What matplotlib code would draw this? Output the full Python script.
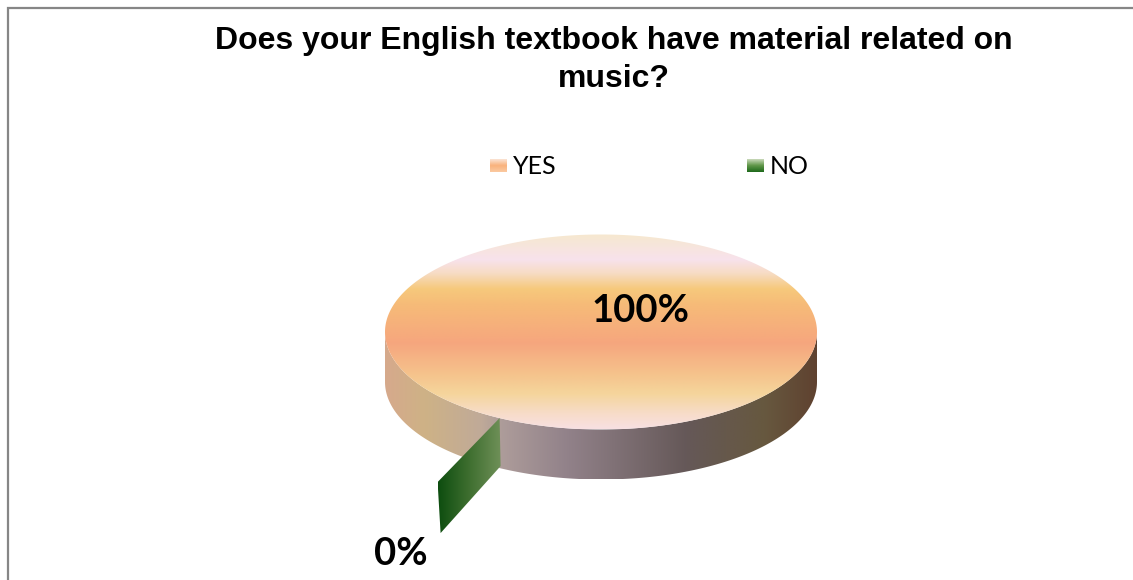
import numpy as np
import matplotlib

matplotlib.use("Agg")
import matplotlib.pyplot as plt
from matplotlib.colors import LinearSegmentedColormap
from matplotlib.patches import Polygon, Rectangle

title = "Does your English textbook have material related on\nmusic?"
categories = ["YES", "NO"]
shares = [100, 0]

W, H = 1133, 580
CX, CY, RX, RY = 601, 332, 216, 97.5
DEPTH = 50
START_ANGLE = 208  # clockwise from twelve o'clock
PULL = np.array([-62, 64])  # how far the NO slice is pulled out of the pie

TOP_STOPS = [(0.0, "#f6e8cf"), (0.13, "#f8e2ec"), (0.2, "#f7dcc4"), (0.28, "#f6c97c"), (0.36, "#f6bb78"),
             (0.56, "#f6a67e"), (0.72, "#f5c38c"), (0.82, "#f5d59c"), (0.92, "#f7dcc8"), (1.0, "#f8e0e2")]
SIDE_STOPS = [(0.0, "#d6a98c"), (0.09, "#ceb286"), (0.22, "#c0aa98"), (0.27, "#ad9c9a"), (0.42, "#92828a"),
              (0.7, "#655858"), (0.88, "#67583f"), (1.0, "#5f4230")]
GREEN_STOPS = [(0.0, "#0d4d0f"), (0.5, "#3f6f30"), (1.0, "#6f9058")]
KEY_COLORS = {"YES": ["#fbe3d3", "#f9b27c", "#fbc9a0"], "NO": ["#c8d8b8", "#5f9648", "#1f6a1c"]}


def rim(angles, drop=0):
    rad = np.radians(angles)
    return np.column_stack([CX + RX * np.sin(rad), CY - RY * np.cos(rad) + drop])


def gradient_fill(ax, patch, stops, extent, vertical=False, zorder=2):
    cmap = LinearSegmentedColormap.from_list("fill", stops)
    ramp = np.linspace(0, 1, 256)
    ramp = ramp[:, None] if vertical else ramp[None, :]
    patch.set(facecolor="none", edgecolor="none")
    ax.add_patch(patch)
    im = ax.imshow(ramp, cmap=cmap, extent=extent, aspect="auto", interpolation="bilinear", zorder=zorder)
    im.set_clip_path(patch)


fig = plt.figure(figsize=(W / 100, H / 100), dpi=100)
ax = fig.add_axes([0, 0, 1, 1])

# chart frame, only the top and left edges show
ax.add_patch(Rectangle((8, 8), W, H, facecolor="white", edgecolor="#868686", linewidth=1.6, zorder=0))

fig.text(614 / W, 1 - 41 / H, title.split("\n")[0], family="Liberation Sans", weight="bold", fontsize=23,
         ha="center", va="center", color="black")
fig.text(614 / W, 1 - 79 / H, title.split("\n")[1], family="Liberation Sans", weight="bold", fontsize=23,
         ha="center", va="center", color="black")

# pie: each slice boundary comes from the cumulative shares
sweeps = np.array(shares) / sum(shares) * 360
bounds = START_ANGLE + np.concatenate([[0], np.cumsum(sweeps)])

# outer wall, front half only
front = np.linspace(90, 270, 200)
side = Polygon(np.vstack([rim(front), rim(front[::-1], drop=DEPTH)]), closed=True)
gradient_fill(ax, side, SIDE_STOPS, (CX - RX, CX + RX, CY + RY + DEPTH, CY - RY))

# top face of the YES slice
top = Polygon(rim(np.linspace(bounds[0], bounds[1], 400)), closed=True)
gradient_fill(ax, top, TOP_STOPS, (CX - RX, CX + RX, CY + RY, CY - RY), vertical=True, zorder=3)

# the empty NO slice is pulled out, so only its cut wall is visible
inner = rim(bounds[2])[0]
outer = inner + PULL
wall = Polygon([inner, outer, outer + (3, DEPTH + 1), inner + (1, DEPTH - 2)], closed=True)
gradient_fill(ax, wall, GREEN_STOPS, (outer[0], inner[0] + 1, outer[1] + DEPTH + 1, inner[1]), zorder=4)

# value labels
label_pos = [(640, 311), (401, 554)]
for value, (x, y) in zip(shares, label_pos):
    ax.text(x, y, f"{value}%", family="Lato", weight="bold", fontsize=27.5, ha="center", va="center",
            color="black", zorder=5)

# legend
key_x = [490, 747]
for name, x in zip(categories, key_x):
    cmap = LinearSegmentedColormap.from_list("key", KEY_COLORS[name])
    ax.imshow(np.linspace(0, 1, 32)[:, None], cmap=cmap, extent=(x, x + 17, 172, 159), aspect="auto", zorder=2)
    ax.text(x + 23, 167, name, family="Lato", fontsize=18, ha="left", va="center", color="black", zorder=5)

ax.set_xlim(0, W)
ax.set_ylim(H, 0)
ax.axis("off")

fig.savefig("out.png", dpi=100, facecolor="white")
